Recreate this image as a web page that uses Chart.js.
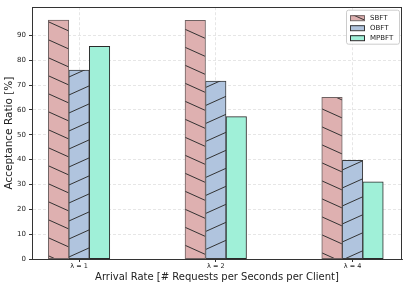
<!DOCTYPE html>
<html>
<head>
<meta charset="utf-8">
<script src="https://cdn.jsdelivr.net/npm/chart.js@4.4.1/dist/chart.umd.min.js"></script>
<style>
html,body{margin:0;padding:0;background:#fff;}
#wrap{width:407px;height:289px;}
</style>
</head>
<body>
<div id="wrap"><canvas id="c" width="407" height="289"></canvas></div>
<script>
const categories = ['λ = 1', 'λ = 2', 'λ = 4'];
const seriesNames = ['SBFT', 'OBFT', 'MPBFT'];
const sbft = [96.1, 96.0, 65.0];
const obft = [76.0, 71.6, 39.7];
const mpbft = [85.6, 57.3, 31.0];
const yTicks = [0, 10, 20, 30, 40, 50, 60, 70, 80, 90];

const fills = ['#deb0b0', '#b0c4de', '#a0f0d8'];
const edges = ['#6e6262', '#3a3a3a', '#2a2a2a'];

function hatch(bg, dir) {
  const c = document.createElement('canvas');
  c.width = 40; c.height = 18;
  const g = c.getContext('2d');
  g.fillStyle = bg; g.fillRect(0, 0, 40, 18);
  if (dir) {
    g.strokeStyle = '#333333'; g.lineWidth = 1;
    for (let k = -1; k <= 1; k++) {
      g.beginPath();
      if (dir === 'back') { g.moveTo(0, k * 18); g.lineTo(40, k * 18 + 18); }
      else { g.moveTo(0, k * 18 + 18); g.lineTo(40, k * 18); }
      g.stroke();
    }
  }
  return g.createPattern(c, 'repeat');
}
const patterns = [hatch(fills[0], 'back'), hatch(fills[1], 'fwd'), fills[2]];

const seriesData = [sbft, obft, mpbft];
const datasets = seriesNames.map((n, i) => ({
  label: n,
  data: seriesData[i].map((v, j) => ({ x: j, y: v })),
  backgroundColor: patterns[i],
  borderColor: edges[i],
  borderWidth: 1,
  barThickness: 20.5,
  borderSkipped: false
}));

const frame = {
  id: 'frame',
  afterDraw(chart) {
    const { ctx, chartArea: a } = chart;
    ctx.save();
    ctx.setLineDash([]);
    ctx.strokeStyle = '#333'; ctx.lineWidth = 1;
    ctx.strokeRect(Math.round(a.left) + 0.5, Math.round(a.top) + 0.5, Math.round(a.right - a.left) - 1, Math.round(a.bottom - a.top));
    // legend
    const x0 = a.right - 56, y0 = a.top + 2.5, w = 53, h = 34;
    ctx.fillStyle = 'rgba(255,255,255,0.85)';
    ctx.strokeStyle = '#cccccc';
    ctx.beginPath();
    ctx.roundRect(x0 + 0.5, y0 + 0.5, w, h, 2);
    ctx.fill(); ctx.stroke();
    ctx.font = '7px "DejaVu Sans"';
    ctx.textBaseline = 'middle';
    seriesNames.forEach((n, i) => {
      const cy = y0 + 8 + i * 10;
      ctx.fillStyle = patterns[i];
      ctx.fillRect(x0 + 4, cy - 2.5, 14, 5);
      ctx.strokeStyle = edges[i];
      ctx.strokeRect(x0 + 4.5, cy - 2, 14, 5);
      ctx.fillStyle = '#222';
      ctx.fillText(n, x0 + 24, cy + 0.5);
    });
    ctx.restore();
  }
};

new Chart(document.getElementById('c'), {
  type: 'bar',
  data: { datasets },
  plugins: [frame],
  options: {
    responsive: false,
    animation: false,
    layout: { padding: { top: 6, right: 5, left: 0, bottom: 6 } },
    plugins: { legend: { display: false }, tooltip: { enabled: false } },
    scales: {
      x: {
        type: 'linear',
        offset: false,
        min: -0.344, max: 2.362,
        afterFit: s => { s.height = 24; },
        ticks: {
          stepSize: 1, includeBounds: false, autoSkip: false, maxRotation: 0,
          padding: 0,
          color: '#222',
          font: { family: 'DejaVu Sans', size: 6.5 },
          callback: v => (Number.isInteger(v) && categories[v] !== undefined) ? categories[v] : ''
        },
        grid: { color: '#e0e0e0', lineWidth: 0.8, tickColor: '#333', tickLength: 3, tickBorderDash: [], tickWidth: 1, offset: false },
        border: { color: '#333', width: 1, dash: [3, 2] },
        title: { display: true, text: 'Arrival Rate [# Requests per Seconds per Client]', color: '#222', font: { family: 'DejaVu Sans', size: 10 }, padding: { top: 0, bottom: 0 } }
      },
      y: {
        min: 0, max: 101.3,
        afterFit: s => { s.width = 32; },
        afterBuildTicks: s => { s.ticks = yTicks.map(v => ({ value: v })); },
        ticks: { color: '#222', font: { family: 'DejaVu Sans', size: 7 }, padding: 3 },
        grid: { color: '#e0e0e0', lineWidth: 0.8, tickColor: '#333', tickLength: 3, tickBorderDash: [], tickWidth: 1 },
        border: { color: '#333', width: 1, dash: [3, 2] },
        title: { display: true, text: 'Acceptance Ratio [%]', color: '#222', font: { family: 'DejaVu Sans', size: 10.5 }, padding: { top: 3, bottom: 0 } }
      }
    }
  }
});
</script>
</body>
</html>
